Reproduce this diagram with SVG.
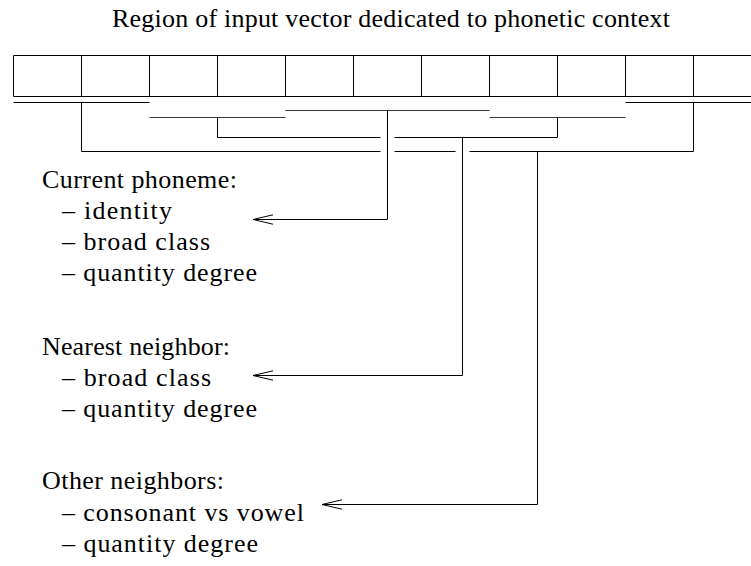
<svg xmlns="http://www.w3.org/2000/svg" width="751" height="566" viewBox="0 0 751 566">
  <style>
    text { font-family: "Liberation Serif", "Times New Roman", "DejaVu Serif", serif; font-size: 26px; fill: #000; }
    .ln { fill: none; stroke: #000; stroke-width: 1; }
    .soft { stroke: #3a3a3a; }
  </style>
  <defs>
    <marker id="openArrow" markerUnits="userSpaceOnUse" markerWidth="30" markerHeight="14" viewBox="-22 -7 24 14" refX="0" refY="0" orient="auto" overflow="visible">
      <path d="M-20,-4.7 L0,0 L-20,4.7" fill="none" stroke="#000" stroke-width="1"/>
    </marker>
  </defs>

  <rect width="751" height="566" fill="#fff"/>

  <g id="title">
    <text x="112" y="27" textLength="558">Region of input vector dedicated to phonetic context</text>
  </g>

  <!-- the input vector: a row of equal cells running off the right edge -->
  <g id="input-vector">
    <path class="ln" d="M751,55.5 H13.5 V96.5 H751"/>
    <path class="ln" d="M81.5,55.5 V96.5 M149.5,55.5 V96.5 M217.5,55.5 V96.5 M285.5,55.5 V96.5 M353.5,55.5 V96.5 M421.5,55.5 V96.5 M489.5,55.5 V96.5 M557.5,55.5 V96.5 M625.5,55.5 V96.5 M693.5,55.5 V96.5"/>
  </g>

  <g id="current-phoneme">
    <text x="42" y="188" textLength="195">Current phoneme:</text>
    <text x="62" y="219" textLength="110">– identity</text>
    <text x="62" y="250" textLength="148">– broad class</text>
    <text x="62" y="281" textLength="195">– quantity degree</text>
  </g>

  <g id="nearest-neighbor">
    <text x="42" y="355" textLength="188">Nearest neighbor:</text>
    <text x="62" y="386" textLength="149">– broad class</text>
    <text x="62" y="417" textLength="195">– quantity degree</text>
  </g>

  <g id="other-neighbors">
    <text x="42" y="489" textLength="182">Other neighbors:</text>
    <text x="62" y="521" textLength="242">– consonant vs vowel</text>
    <text x="62" y="552" textLength="196">– quantity degree</text>
  </g>

  <g id="connectors">
    <!-- brackets under the cells -->
    <path class="ln" d="M13.5,102.5 H149.5 M625.5,102.5 H751"/>
    <path class="ln soft" d="M285.5,110.5 H489.5"/>
    <path class="ln soft" d="M149.5,117.5 H285.5 M489.5,117.5 H625.5"/>
    <!-- nearest-neighbour span -->
    <path class="ln" d="M217.5,117.5 V137.5 H380.5 M394.5,137.5 H557.5 V117.5"/>
    <!-- other-neighbours span -->
    <path class="ln" d="M81.5,102.5 V151.5 H380.5 M394.5,151.5 H455.5 M469.5,151.5 H693.5 V102.5"/>
    <!-- leads down to the feature lists -->
    <path class="ln" d="M387.5,110.5 V219.5 H253" marker-end="url(#openArrow)"/>
    <path class="ln" d="M462.5,137.5 V375.5 H253" marker-end="url(#openArrow)"/>
    <path class="ln" d="M537.5,151.5 V504.5 H322" marker-end="url(#openArrow)"/>
  </g>
</svg>
